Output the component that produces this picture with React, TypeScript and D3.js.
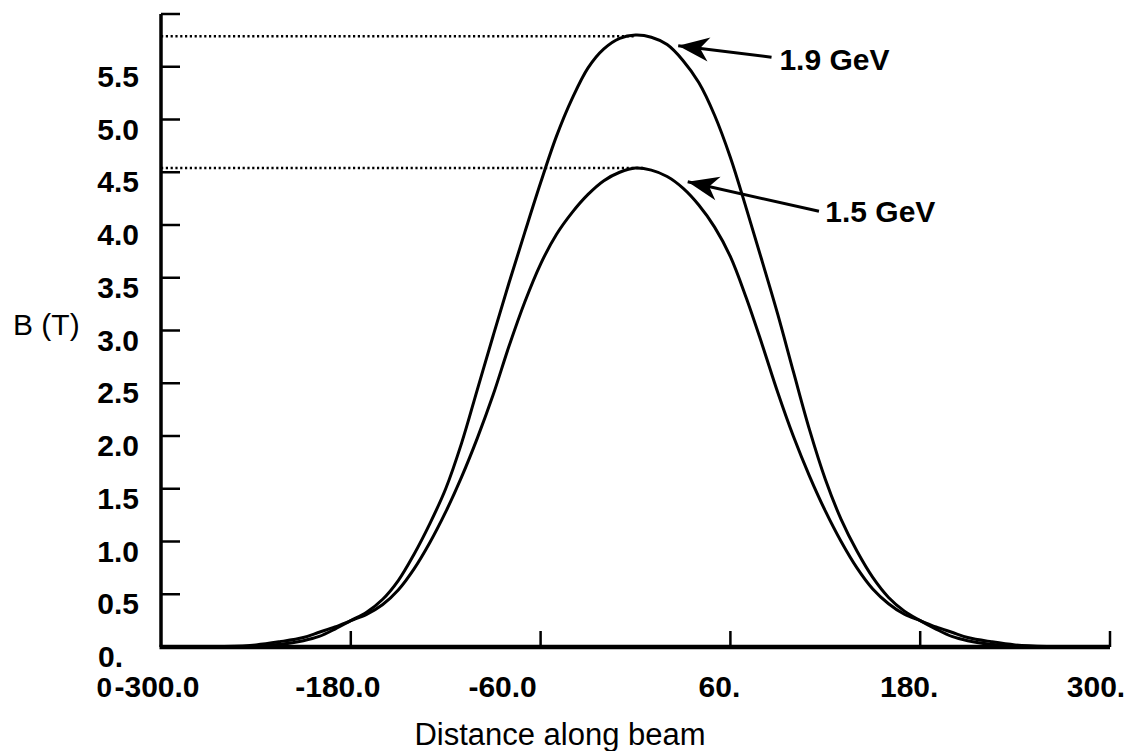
import React from "react";
import * as d3 from "d3";

// ---- data ----
const xs = [-300,-260,-240,-225,-210,-200,-190,-180,-170,-160,-150,-140,-130,-120,-110,-100,-90,-80,-70,-60,-50,-40,-30,-20,-10,0,
  10,20,30,40,50,60,70,80,90,100,110,120,130,140,150,160,170,180,190,200,210,225,240,260,300];
const b19 = [0,0,0.008,0.025,0.06,0.10,0.17,0.25,0.33,0.45,0.63,0.88,1.17,1.50,1.93,2.44,2.95,3.45,3.93,4.40,4.84,5.20,5.49,5.67,5.77,5.80,
  5.78,5.71,5.56,5.35,5.04,4.64,4.16,3.66,3.15,2.60,2.06,1.59,1.21,0.91,0.66,0.47,0.34,0.25,0.17,0.10,0.06,0.025,0.008,0,0];
const b15 = [0,0.005,0.02,0.05,0.09,0.14,0.19,0.25,0.31,0.40,0.54,0.74,0.99,1.28,1.61,1.98,2.39,2.85,3.27,3.63,3.91,4.12,4.29,4.42,4.50,4.54,
  4.52,4.46,4.35,4.19,3.98,3.70,3.31,2.87,2.41,1.99,1.62,1.29,1.00,0.75,0.55,0.41,0.31,0.25,0.19,0.14,0.09,0.05,0.02,0.005,0];

const yTicks = [0,0.5,1,1.5,2,2.5,3,3.5,4,4.5,5,5.5,6];
const yTickLabels = ["0.","0.5","1.0","1.5","2.0","2.5","3.0","3.5","4.0","4.5","5.0","5.5",""];
const xTicks = [-300,-180,-60,60,180,300];
const xTickLabels = ["-300.0","-180.0","-60.0","60.","180.","300."];

const seriesLabels = ["1.9 GeV","1.5 GeV"];
const peakB = [5.79, 4.54];
const peakX = [0, 5];
const arrowTipX = [27, 33];
const arrowTipB = [5.70, 4.41];
const arrowTailX = [86, 116];
const arrowTailB = [5.59, 4.13];
const labelX = [91, 120];
const labelB = [5.47, 4.03];

// label nudges (pixels), matching the original typesetting
const xLabelDx = [-4, -13, -38, -11, -11, -14];

export default function App() {
  const x = d3.scaleLinear().domain([-300, 300]).range([161, 1110]);
  const y = d3.scaleLinear().domain([0, 6]).range([647, 14]);
  const line = d3.line<number>()
    .x((_, i) => x(xs[i]))
    .y((d) => y(d))
    .curve(d3.curveCatmullRom.alpha(0.5));
  const font = "'Liberation Sans', Arial, Helvetica, sans-serif";

  const arrowHead = (k: number) => {
    const tx = x(arrowTipX[k]), ty = y(arrowTipB[k]);
    const sx = x(arrowTailX[k]), sy = y(arrowTailB[k]);
    const len = Math.hypot(tx - sx, ty - sy);
    const ux = (tx - sx) / len, uy = (ty - sy) / len;
    const nx = -uy, ny = ux;
    const L = 31, W = 12, N = 9;
    const bx = tx - L * ux, by = ty - L * uy;
    const p = [
      [tx, ty],
      [bx + W * nx, by + W * ny],
      [tx - (L - N) * ux, ty - (L - N) * uy],
      [bx - W * nx, by - W * ny],
    ];
    return "M" + p.map((q) => q.join(",")).join("L") + "Z";
  };

  return (
    <svg width={1129} height={751} style={{ position: "absolute", left: 0, top: 0, background: "#fff" }}>
      {/* dotted peak lines */}
      {peakB.map((b, i) => (
        <line key={"pk" + i} x1={x(-300)} x2={x(peakX[i])} y1={y(b)} y2={y(b)}
          stroke="#000" strokeWidth={2.5} strokeDasharray="2.2 2.6" />
      ))}
      {/* axes */}
      <line x1={x(-300)} x2={x(-300)} y1={y(6)} y2={y(0)} stroke="#000" strokeWidth={3.5} />
      <line x1={x(-300) - 1.5} x2={x(300)} y1={y(0)} y2={y(0)} stroke="#000" strokeWidth={4.5} />
      {yTicks.map((t, i) => (
        <g key={"yt" + i}>
          <line x1={x(-300)} x2={x(-300) + 19} y1={y(t)} y2={y(t)} stroke="#000" strokeWidth={2.5} />
          <text x={i === 0 ? 123 : 139} y={y(t) + 20} textAnchor="end" fontFamily={font} fontWeight="bold" fontSize={30} fill="#000">
            {yTickLabels[i]}
          </text>
        </g>
      ))}
      {xTicks.map((t, i) => (
        <g key={"xt" + i}>
          {i > 0 && <line x1={x(t)} x2={x(t)} y1={y(0)} y2={y(0) - 16} stroke="#000" strokeWidth={2.5} />}
          <text x={x(t) + xLabelDx[i]} y={697} textAnchor="middle" fontFamily={font} fontWeight="bold" fontSize={30} fill="#000">
            {xTickLabels[i]}
          </text>
        </g>
      ))}
      <text x={112} y={697} textAnchor="end" fontFamily={font} fontWeight="bold" fontSize={28} fill="#000">0</text>
      {/* axis titles */}
      <text x={13} y={335} fontFamily={font} fontSize={30} fill="#000">B (T)</text>
      <text x={560} y={745} textAnchor="middle" fontFamily={font} fontSize={31} fill="#000">Distance along beam</text>
      {/* curves */}
      <path d={line(b19) || ""} fill="none" stroke="#000" strokeWidth={3} />
      <path d={line(b15) || ""} fill="none" stroke="#000" strokeWidth={3} />
      {/* annotations */}
      {seriesLabels.map((s, i) => (
        <g key={"an" + i}>
          <line x1={x(arrowTailX[i])} y1={y(arrowTailB[i])}
            x2={x(arrowTipX[i])} y2={y(arrowTipB[i])} stroke="#000" strokeWidth={3} />
          <path d={arrowHead(i)} fill="#000" />
          <text x={x(labelX[i])} y={y(labelB[i])} fontFamily={font} fontWeight="bold" fontSize={30} fill="#000">{s}</text>
        </g>
      ))}
    </svg>
  );
}
